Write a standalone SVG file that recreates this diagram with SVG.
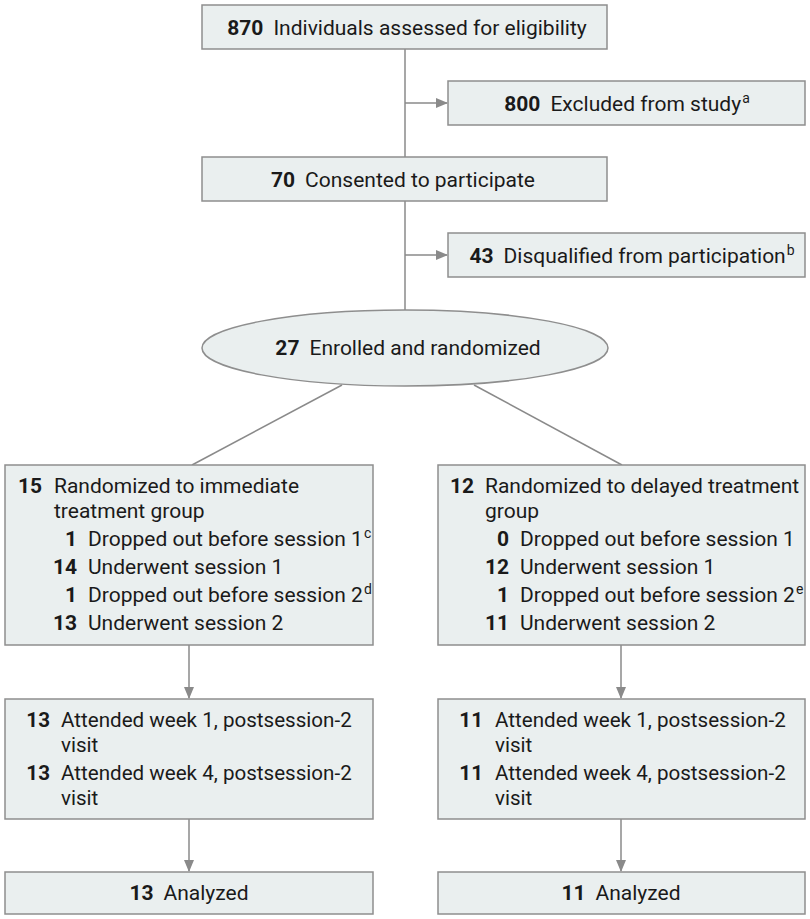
<svg xmlns="http://www.w3.org/2000/svg" width="810" height="919" viewBox="0 0 810 919">
<style>
  .box { fill: #eaefef; stroke: #8e8e8e; stroke-width: 1.5; }
  .t { font-family: Roboto, "Liberation Sans", sans-serif; font-size: 21px; fill: #1a1a1a; }
  .m { font-size: 20.6px; }
  .c { text-anchor: middle; }
  .e { text-anchor: end; }
  .b { font-weight: bold; }
  .sup { font-size: 14px; }
  .ln { stroke: #8a8a8a; stroke-width: 1.5; fill: none; }
</style>
<defs>
  <marker id="ah" markerWidth="12" markerHeight="10" refX="11" refY="5" orient="auto" markerUnits="userSpaceOnUse">
    <path d="M0,0 L12,5 L0,10 Z" fill="#8a8a8a"/>
  </marker>
</defs>

<g id="connectors">
  <line class="ln" x1="405" y1="49" x2="405" y2="157"/>
  <line class="ln" x1="405" y1="103" x2="447" y2="103" marker-end="url(#ah)"/>
  <line class="ln" x1="405" y1="201" x2="405" y2="310"/>
  <line class="ln" x1="405" y1="255" x2="447" y2="255" marker-end="url(#ah)"/>
  <line class="ln" x1="342" y1="385" x2="192" y2="465"/>
  <line class="ln" x1="474" y1="385" x2="622" y2="465"/>
  <line class="ln" x1="189" y1="645" x2="189" y2="698" marker-end="url(#ah)"/>
  <line class="ln" x1="621" y1="645" x2="621" y2="698" marker-end="url(#ah)"/>
  <line class="ln" x1="189" y1="819" x2="189" y2="871" marker-end="url(#ah)"/>
  <line class="ln" x1="621" y1="819" x2="621" y2="871" marker-end="url(#ah)"/>
</g>

<g id="assessed">
  <rect class="box" x="202" y="5" width="405" height="44"/>
  <text class="t c" x="407" y="35"><tspan class="b">870</tspan><tspan dx="10">Individuals assessed for eligibility</tspan></text>
</g>

<g id="excluded">
  <rect class="box" x="448" y="81" width="357" height="44"/>
  <text class="t c" x="627" y="111"><tspan class="b">800</tspan><tspan dx="10">Excluded from study</tspan><tspan class="sup" dx="1" dy="-8">a</tspan></text>
</g>

<g id="consented">
  <rect class="box" x="202" y="157" width="405" height="44"/>
  <text class="t c" x="403" y="187"><tspan class="b">70</tspan><tspan dx="10">Consented to participate</tspan></text>
</g>

<g id="disqualified">
  <rect class="box" x="448" y="233" width="357" height="44"/>
  <text class="t c" x="632" y="263"><tspan class="b">43</tspan><tspan dx="10">Disqualified from participation</tspan><tspan class="sup" dx="1" dy="-8">b</tspan></text>
</g>

<g id="enrolled">
  <ellipse class="box" cx="405" cy="348" rx="203" ry="38"/>
  <text class="t c" x="408" y="355"><tspan class="b">27</tspan><tspan dx="10">Enrolled and randomized</tspan></text>
</g>

<g id="immediate">
  <rect class="box" x="5" y="465" width="368" height="180"/>
  <text class="t e b" x="42" y="493">15</text>
  <text class="t" x="54" y="493">Randomized to immediate</text>
  <text class="t" x="54" y="518">treatment group</text>
  <text class="t e b" x="77" y="546">1</text>
  <text class="t" x="88" y="546">Dropped out before session 1<tspan class="sup" dx="1" dy="-8">c</tspan></text>
  <text class="t e b" x="77" y="574">14</text>
  <text class="t" x="88" y="574">Underwent session 1</text>
  <text class="t e b" x="77" y="602">1</text>
  <text class="t" x="88" y="602">Dropped out before session 2<tspan class="sup" dx="1" dy="-8">d</tspan></text>
  <text class="t e b" x="77" y="630">13</text>
  <text class="t" x="88" y="630">Underwent session 2</text>
</g>

<g id="delayed">
  <rect class="box" x="438" y="465" width="367" height="180"/>
  <text class="t e b" x="474" y="493">12</text>
  <text class="t" x="485" y="493">Randomized to delayed treatment</text>
  <text class="t" x="485" y="518">group</text>
  <text class="t e b" x="509" y="546">0</text>
  <text class="t" x="520" y="546">Dropped out before session 1</text>
  <text class="t e b" x="509" y="574">12</text>
  <text class="t" x="520" y="574">Underwent session 1</text>
  <text class="t e b" x="509" y="602">1</text>
  <text class="t" x="520" y="602">Dropped out before session 2<tspan class="sup" dx="1" dy="-8">e</tspan></text>
  <text class="t e b" x="509" y="630">11</text>
  <text class="t" x="520" y="630">Underwent session 2</text>
</g>

<g id="followup-immediate">
  <rect class="box" x="5" y="699" width="368" height="120"/>
  <text class="t m e b" x="50" y="727">13</text>
  <text class="t m" x="61" y="727">Attended week 1, postsession-2</text>
  <text class="t m" x="61" y="752">visit</text>
  <text class="t m e b" x="50" y="780">13</text>
  <text class="t m" x="61" y="780">Attended week 4, postsession-2</text>
  <text class="t m" x="61" y="805">visit</text>
</g>

<g id="followup-delayed">
  <rect class="box" x="438" y="699" width="367" height="120"/>
  <text class="t m e b" x="483" y="727">11</text>
  <text class="t m" x="495" y="727">Attended week 1, postsession-2</text>
  <text class="t m" x="495" y="752">visit</text>
  <text class="t m e b" x="483" y="780">11</text>
  <text class="t m" x="495" y="780">Attended week 4, postsession-2</text>
  <text class="t m" x="495" y="805">visit</text>
</g>

<g id="analyzed-immediate">
  <rect class="box" x="5" y="872" width="368" height="42"/>
  <text class="t c" x="189" y="900"><tspan class="b">13</tspan><tspan dx="10">Analyzed</tspan></text>
</g>

<g id="analyzed-delayed">
  <rect class="box" x="438" y="872" width="367" height="42"/>
  <text class="t c" x="621" y="900"><tspan class="b">11</tspan><tspan dx="10">Analyzed</tspan></text>
</g>
</svg>
